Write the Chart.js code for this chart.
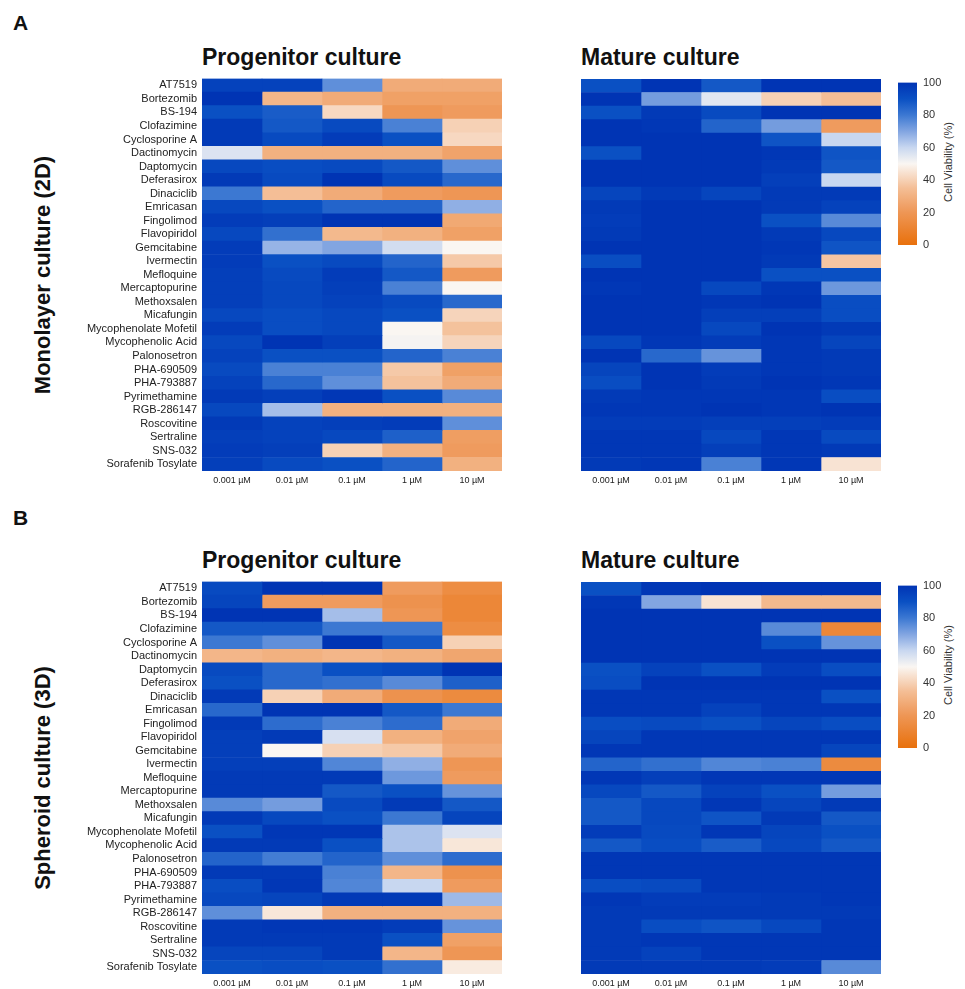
<!DOCTYPE html>
<html>
<head>
<meta charset="utf-8">
<script src="https://cdn.jsdelivr.net/npm/chart.js@4.4.1/dist/chart.umd.min.js"></script>
<style>
  body { margin: 0; background: #fff; font-family: "Liberation Sans", Arial, sans-serif; }
  #wrap { position: relative; width: 965px; height: 989px; overflow: hidden; }
  canvas { position: absolute; }
  .txt { position: absolute; white-space: nowrap; color: #111; line-height: normal; }
  .letter { font-size: 21px; font-weight: bold; }
  .title { font-size: 23px; font-weight: bold; }
  .rowtitle { font-size: 22px; font-weight: bold; transform: translate(-50%, -50%) rotate(-90deg); }
  .cbtitle { font-size: 11px; color: #333; transform: translate(-50%, -50%) rotate(-90deg); }
</style>
</head>
<body>
<div id="wrap">
  <div class="txt letter" style="left:13px; top:11px;">A</div>
  <div class="txt letter" style="left:13px; top:506px;">B</div>

  <div class="txt title" style="left:202px; top:44px;">Progenitor culture</div>
  <div class="txt title" style="left:581px; top:44px;">Mature culture</div>
  <div class="txt title" style="left:202px; top:547px;">Progenitor culture</div>
  <div class="txt title" style="left:581px; top:547px;">Mature culture</div>

  <div class="txt rowtitle" style="left:43px; top:275px;">Monolayer culture (2D)</div>
  <div class="txt rowtitle" style="left:43px; top:778px;">Spheroid culture (3D)</div>

  <div class="txt cbtitle" style="left:948px; top:162px;">Cell Viability (%)</div>
  <div class="txt cbtitle" style="left:948px; top:665px;">Cell Viability (%)</div>

  <canvas id="prog2d" width="512" height="423" style="left:0px; top:67px;"></canvas>
  <canvas id="mat2d" width="320" height="420" style="left:571px; top:70px;"></canvas>
  <canvas id="cb2d" width="70" height="190" style="left:890px; top:70px;"></canvas>

  <canvas id="prog3d" width="512" height="423" style="left:0px; top:570px;"></canvas>
  <canvas id="mat3d" width="320" height="420" style="left:571px; top:573px;"></canvas>
  <canvas id="cb3d" width="70" height="190" style="left:890px; top:573px;"></canvas>
</div>

<script>
// Drugs (rows) and concentrations (columns)
const drugs = [
    'AT7519', 'Bortezomib', 'BS-194', 'Clofazimine', 'Cyclosporine A', 'Dactinomycin',
    'Daptomycin', 'Deferasirox', 'Dinaciclib', 'Emricasan', 'Fingolimod', 'Flavopiridol',
    'Gemcitabine', 'Ivermectin', 'Mefloquine', 'Mercaptopurine', 'Methoxsalen', 'Micafungin',
    'Mycophenolate Mofetil', 'Mycophenolic Acid', 'Palonosetron', 'PHA-690509', 'PHA-793887',
    'Pyrimethamine', 'RGB-286147', 'Roscovitine', 'Sertraline', 'SNS-032', 'Sorafenib Tosylate'
];
const concs = ['0.001 µM', '0.01 µM', '0.1 µM', '1 µM', '10 µM'];
const colorbarTicks = [0, 20, 40, 60, 80, 100];

// Cell viability (%), one row per drug, one value per concentration
const progenitor2D = [
    [95, 95, 75, 28, 28],
    [100, 32, 28, 24, 24],
    [90, 87, 42, 20, 22],
    [98, 88, 92, 78, 40],
    [98, 92, 97, 90, 42],
    [56, 30, 30, 30, 25],
    [93, 91, 92, 88, 75],
    [98, 92, 100, 92, 84],
    [80, 35, 28, 22, 20],
    [93, 90, 85, 85, 68],
    [97, 96, 100, 100, 27],
    [93, 82, 33, 30, 24],
    [97, 67, 70, 58, 50],
    [97, 90, 92, 85, 38],
    [96, 92, 97, 88, 22],
    [96, 93, 96, 78, 50],
    [96, 93, 95, 92, 84],
    [93, 91, 93, 90, 41],
    [97, 91, 93, 50, 36],
    [93, 100, 96, 51, 41],
    [95, 90, 90, 85, 78],
    [92, 78, 78, 38, 24],
    [95, 84, 75, 36, 28],
    [98, 96, 99, 90, 76],
    [93, 65, 30, 30, 30],
    [98, 95, 96, 97, 75],
    [96, 95, 93, 86, 23],
    [97, 96, 40, 30, 22],
    [96, 92, 90, 85, 30]
];

const mature2D = [
    [90, 100, 88, 100, 100],
    [100, 72, 55, 40, 35],
    [90, 98, 92, 100, 100],
    [100, 99, 85, 72, 22],
    [100, 100, 100, 89, 60],
    [90, 100, 100, 99, 89],
    [100, 100, 100, 98, 88],
    [100, 100, 100, 96, 60],
    [94, 98, 94, 98, 98],
    [98, 100, 100, 98, 95],
    [97, 100, 100, 90, 76],
    [98, 100, 100, 98, 93],
    [100, 100, 100, 99, 89],
    [91, 100, 100, 98, 37],
    [100, 100, 100, 90, 90],
    [99, 100, 93, 99, 73],
    [100, 100, 99, 100, 91],
    [100, 100, 96, 96, 91],
    [100, 100, 93, 100, 98],
    [93, 99, 97, 99, 94],
    [100, 84, 74, 99, 98],
    [94, 100, 97, 99, 98],
    [91, 100, 98, 100, 99],
    [98, 99, 99, 99, 91],
    [99, 99, 100, 99, 100],
    [97, 97, 96, 96, 97],
    [99, 99, 93, 99, 92],
    [99, 99, 96, 99, 98],
    [98, 99, 78, 99, 45]
];

const progenitor3D = [
    [92, 100, 100, 22, 15],
    [94, 22, 22, 18, 12],
    [100, 100, 65, 20, 12],
    [88, 88, 80, 80, 15],
    [80, 75, 100, 88, 40],
    [32, 30, 32, 30, 26],
    [92, 84, 90, 92, 100],
    [90, 84, 82, 76, 86],
    [98, 40, 28, 18, 14],
    [84, 100, 100, 88, 80],
    [98, 83, 78, 83, 28],
    [96, 98, 57, 30, 25],
    [96, 50, 40, 38, 28],
    [96, 96, 77, 68, 20],
    [98, 98, 98, 73, 22],
    [98, 98, 88, 90, 74],
    [76, 72, 92, 98, 88],
    [98, 93, 90, 80, 94],
    [90, 99, 99, 64, 56],
    [98, 98, 90, 64, 46],
    [85, 79, 85, 75, 83],
    [98, 98, 78, 32, 18],
    [91, 99, 77, 60, 22],
    [93, 94, 98, 98, 66],
    [75, 46, 30, 30, 30],
    [98, 99, 99, 97, 74],
    [98, 98, 98, 90, 24],
    [94, 94, 98, 32, 20],
    [90, 91, 90, 82, 47]
];

const mature3D = [
    [90, 99, 100, 100, 100],
    [99, 70, 45, 33, 33],
    [100, 100, 100, 100, 100],
    [100, 100, 100, 76, 12],
    [100, 100, 100, 90, 74],
    [100, 100, 100, 100, 100],
    [90, 95, 90, 97, 91],
    [91, 100, 100, 100, 100],
    [99, 99, 99, 99, 90],
    [99, 99, 95, 99, 99],
    [91, 92, 90, 94, 91],
    [94, 99, 99, 99, 99],
    [99, 99, 99, 99, 94],
    [85, 82, 77, 78, 14],
    [99, 96, 99, 99, 99],
    [93, 88, 95, 90, 72],
    [88, 93, 99, 94, 98],
    [88, 93, 89, 98, 88],
    [97, 92, 99, 94, 90],
    [88, 91, 87, 93, 88],
    [99, 99, 99, 99, 99],
    [99, 99, 99, 99, 99],
    [91, 92, 99, 99, 99],
    [99, 97, 97, 98, 99],
    [98, 98, 98, 98, 98],
    [98, 91, 89, 93, 99],
    [98, 99, 99, 99, 99],
    [98, 95, 99, 99, 99],
    [98, 98, 98, 97, 76]
];

// Colour scale: orange (0) -> white (50) -> blue (100)
const colorStops = [
    [0, [232, 112, 12]],
    [20, [238, 150, 85]],
    [35, [244, 190, 150]],
    [50, [250, 246, 242]],
    [60, [200, 215, 240]],
    [70, [130, 165, 225]],
    [80, [60, 120, 210]],
    [90, [10, 80, 195]],
    [100, [0, 52, 180]]
];

function viabilityColor(v) {
    v = Math.max(0, Math.min(100, v));
    for (let i = 1; i < colorStops.length; i++) {
        const [v1, c1] = colorStops[i];
        const [v0, c0] = colorStops[i - 1];
        if (v <= v1) {
            const t = (v - v0) / (v1 - v0);
            const c = c0.map((x, k) => Math.round(x + (c1[k] - x) * t));
            return `rgb(${c[0]}, ${c[1]}, ${c[2]})`;
        }
    }
    return 'rgb(0, 52, 180)';
}

Chart.defaults.font.family = '"Liberation Sans", Arial, sans-serif';

// Heatmap panel: stacked horizontal bars, one segment per concentration
function criarPainel(id, valores, mostrarNomes) {
    const ctx = document.getElementById(id).getContext('2d');
    new Chart(ctx, {
        type: 'bar',
        data: {
            labels: drugs,
            datasets: concs.map((c, j) => ({
                label: c,
                data: drugs.map(() => 1),
                backgroundColor: (context) => viabilityColor(valores[context.dataIndex][j]),
                borderWidth: 0,
                barPercentage: 1,
                categoryPercentage: 1
            }))
        },
        options: {
            indexAxis: 'y',
            responsive: false,
            animation: false,
            events: [],
            layout: {
                padding: mostrarNomes ? { top: 0, right: 10, left: 0, bottom: 0 } : { top: 9, right: 10, left: 10, bottom: 0 }
            },
            plugins: {
                legend: { display: false },
                tooltip: { enabled: false }
            },
            scales: {
                x: {
                    stacked: true,
                    min: 0,
                    max: 5,
                    grid: { display: false, drawTicks: false },
                    border: { display: false },
                    afterBuildTicks: (scale) => {
                        scale.ticks = concs.map((c, i) => ({ value: i + 0.5 }));
                    },
                    ticks: {
                        callback: (v, i) => concs[i],
                        font: { size: 9 },
                        color: '#222',
                        padding: 4,
                        maxRotation: 0,
                        autoSkip: false
                    },
                    afterFit: (scale) => { scale.height = 19; }
                },
                y: {
                    stacked: true,
                    display: mostrarNomes,
                    grid: { display: false, drawTicks: false },
                    border: { display: false },
                    ticks: {
                        font: { size: 11 },
                        color: '#222',
                        padding: 5,
                        autoSkip: false
                    },
                    afterFit: (scale) => { scale.width = mostrarNomes ? 202 : 0; }
                }
            }
        }
    });
}

// Colour bar: one bar filled with the colour scale gradient
function criarBarraCores(id) {
    const ctx = document.getElementById(id).getContext('2d');
    new Chart(ctx, {
        type: 'bar',
        data: {
            labels: [''],
            datasets: [{
                data: [100],
                backgroundColor: (context) => {
                    const area = context.chart.chartArea;
                    if (!area) return null;
                    const g = context.chart.ctx.createLinearGradient(0, area.bottom, 0, area.top);
                    for (let v = 0; v <= 100; v += 5) {
                        g.addColorStop(v / 100, viabilityColor(v));
                    }
                    return g;
                },
                borderWidth: 0,
                barPercentage: 1,
                categoryPercentage: 1
            }]
        },
        options: {
            responsive: false,
            animation: false,
            events: [],
            layout: { padding: { top: 9, bottom: 15, left: 8, right: 0 } },
            plugins: {
                legend: { display: false },
                tooltip: { enabled: false }
            },
            scales: {
                x: { display: false },
                y: {
                    position: 'right',
                    min: 0,
                    max: 100,
                    grid: { display: false, drawTicks: false },
                    border: { display: false },
                    afterBuildTicks: (scale) => {
                        scale.ticks = colorbarTicks.map(v => ({ value: v }));
                    },
                    ticks: {
                        font: { size: 11 },
                        color: '#333',
                        padding: 6
                    },
                    afterFit: (scale) => { scale.width = 43; }
                }
            }
        }
    });
}

criarPainel('prog2d', progenitor2D, true);
criarPainel('mat2d', mature2D, false);
criarBarraCores('cb2d');
criarPainel('prog3d', progenitor3D, true);
criarPainel('mat3d', mature3D, false);
criarBarraCores('cb3d');
</script>
</body>
</html>
